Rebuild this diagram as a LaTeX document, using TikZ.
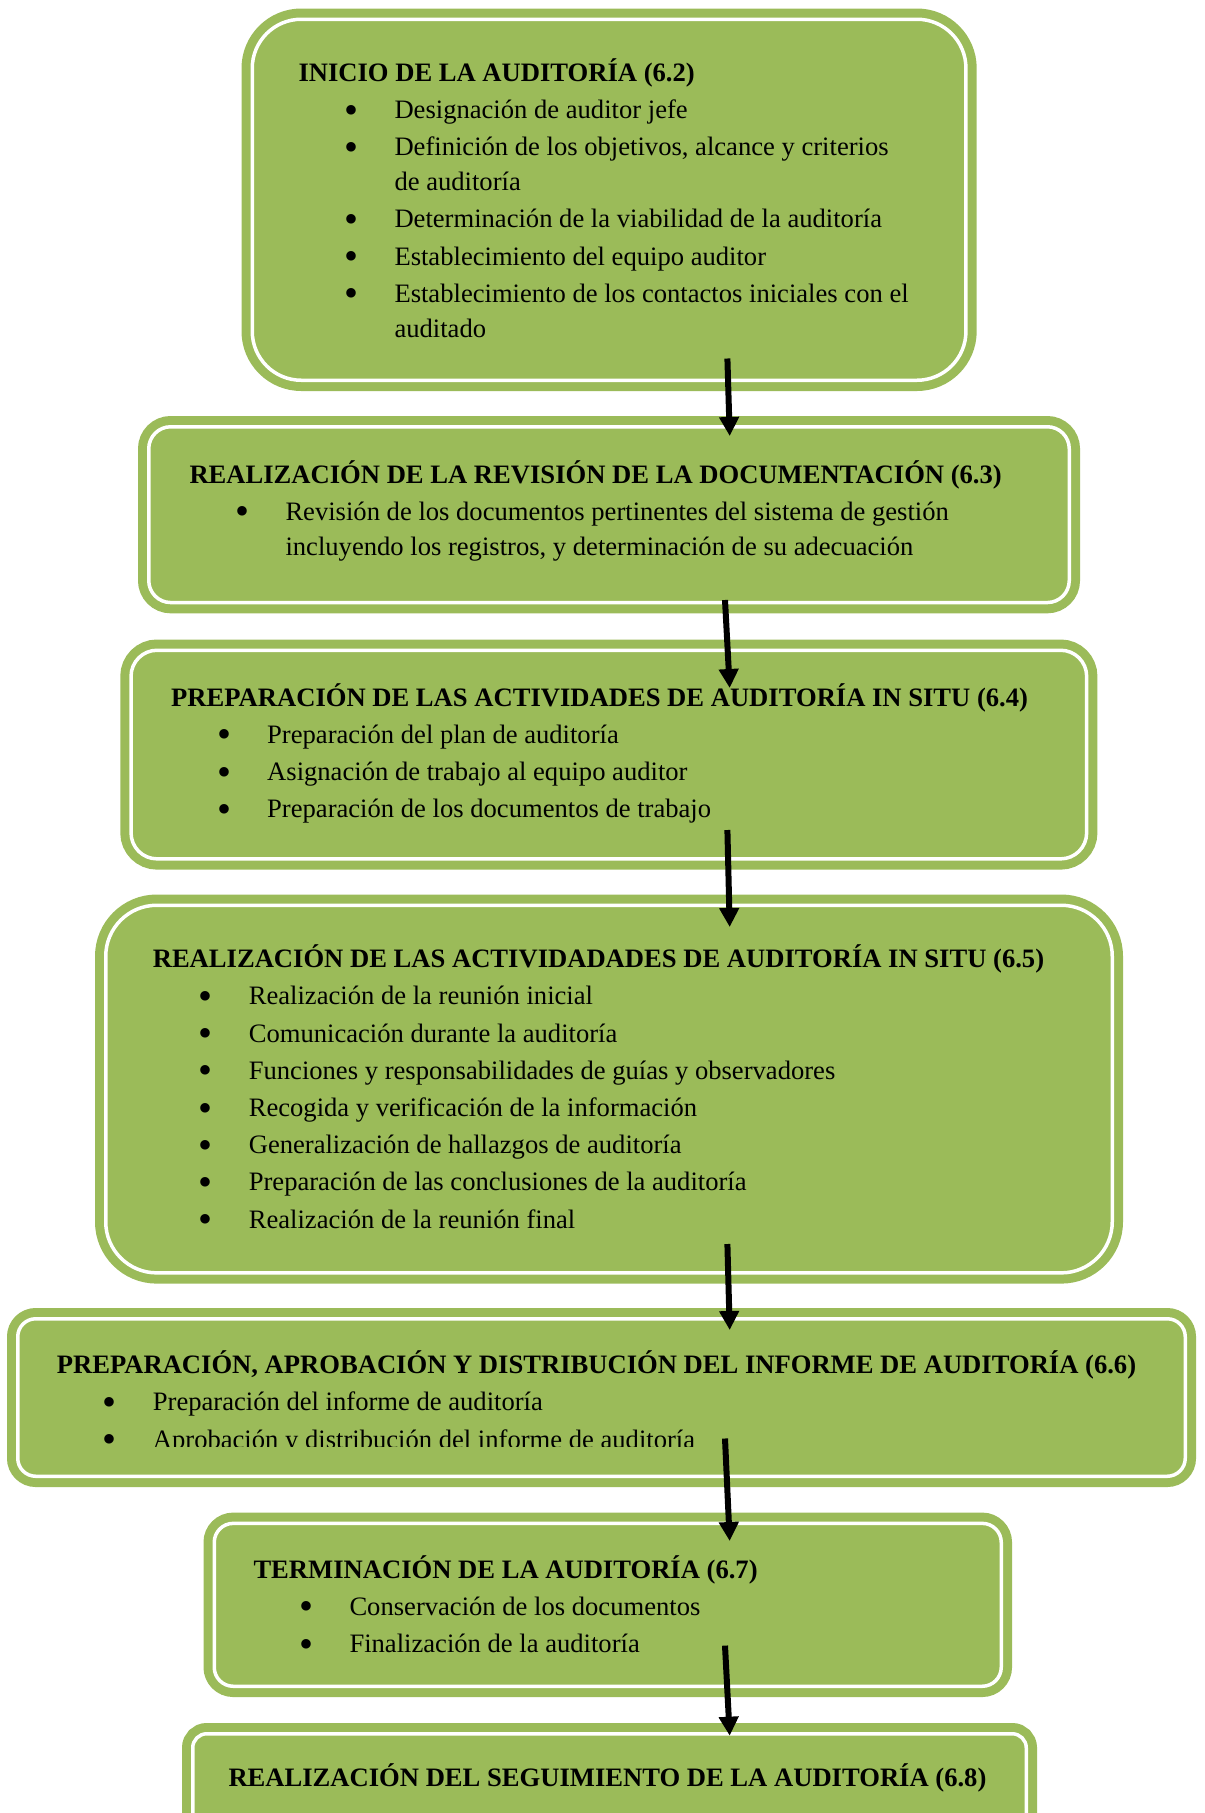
\documentclass[tikz,border=0pt]{standalone}
\usepackage{fontspec}
\setmainfont{Liberation Serif}
\usetikzlibrary{arrows.meta}
\definecolor{boxgreen}{RGB}{155,187,89}
\newcommand\bul{\makebox[96pt][l]{\hspace{46pt}\raisebox{-4.6pt}{\scalebox{1.5}{\textbullet}}}}
\newenvironment{blist}{\begin{tabular}[t]{@{}l@{}l@{}}}{\end{tabular}}
\begin{document}
\begin{tikzpicture}[x=1pt,y=-1pt,
  box/.style={rectangle, fill=boxgreen, draw=boxgreen, line width=9pt, double=white, double distance=3.5pt, inner sep=0pt},
  txt/.style={anchor=base west, inner sep=0pt, font=\fontsize{26.6}{35}\selectfont},
  arr/.style={line width=6pt, -{Triangle[width=19pt,length=19pt]}}]
\useasboundingbox (0,0) rectangle (1205,1813);
\begin{scope}
\clip (0,0) rectangle (1205,1813);
% boxes
\node[box, minimum width=713.7pt, minimum height=361pt, rounded corners=49pt] (b1) at (609.1,199.75) {};
\node[box, minimum width=920.5pt, minimum height=175.8pt, rounded corners=22pt] (b2) at (609,514.65) {};
\node[box, minimum width=955.6pt, minimum height=208.6pt, rounded corners=26pt] (b3) at (608.85,754.55) {};
\node[box, minimum width=1006.5pt, minimum height=367.6pt, rounded corners=51pt] (b4) at (609,1089.05) {};
\node[box, minimum width=1167.5pt, minimum height=157.5pt, rounded corners=18pt] (b5) at (601.5,1397.5) {};
\node[box, minimum width=787pt, minimum height=162.9pt, rounded corners=19pt] (b6) at (607.75,1604.8) {};
\node[box, minimum width=833.5pt, minimum height=133.5pt, rounded corners=14pt] (b7) at (609.5,1800.5) {};
% texts
\node[txt] (t1) at (298.3,81.3) {\begin{blist}
\multicolumn{2}{@{}l@{}}{\bfseries INICIO DE LA AUDITORÍA (6.2)}\\[2.2pt]
\bul & Designación de auditor jefe\\[2.2pt]
\bul & Definición de los objetivos, alcance y criterios\\
 & de auditoría\\[2.2pt]
\bul & Determinación de la viabilidad de la auditoría\\[2.2pt]
\bul & Establecimiento del equipo auditor\\[2.2pt]
\bul & Establecimiento de los contactos iniciales con el\\
 & auditado
\end{blist}};
\node[txt] (t2) at (189.3,483) {\begin{blist}
\multicolumn{2}{@{}l@{}}{\bfseries REALIZACIÓN DE LA REVISIÓN DE LA DOCUMENTACIÓN (6.3)}\\[2.2pt]
\bul & Revisión de los documentos pertinentes del sistema de gestión\\
 & incluyendo los registros, y determinación de su adecuación
\end{blist}};
\node[txt] (t3) at (171,706) {\begin{blist}
\multicolumn{2}{@{}l@{}}{\bfseries PREPARACIÓN DE LAS ACTIVIDADES DE AUDITORÍA IN SITU (6.4)}\\[2.2pt]
\bul & Preparación del plan de auditoría\\[2.2pt]
\bul & Asignación de trabajo al equipo auditor\\[2.2pt]
\bul & Preparación de los documentos de trabajo
\end{blist}};
\node[txt] (t4) at (152.6,967.7) {\begin{blist}
\multicolumn{2}{@{}l@{}}{\bfseries REALIZACIÓN DE LAS ACTIVIDADADES DE AUDITORÍA IN SITU (6.5)}\\[2.2pt]
\bul & Realización de la reunión inicial\\[2.2pt]
\bul & Comunicación durante la auditoría\\[2.2pt]
\bul & Funciones y responsabilidades de guías y observadores\\[2.2pt]
\bul & Recogida y verificación de la información\\[2.2pt]
\bul & Generalización de hallazgos de auditoría\\[2.2pt]
\bul & Preparación de las conclusiones de la auditoría\\[2.2pt]
\bul & Realización de la reunión final
\end{blist}};
\begin{scope}
\clip (0,1300) rectangle (1205,1446.5);
\node[txt] (t5) at (56.7,1373.6) {\begin{blist}
\multicolumn{2}{@{}l@{}}{\bfseries PREPARACIÓN, APROBACIÓN Y DISTRIBUCIÓN DEL INFORME DE AUDITORÍA (6.6)}\\[2.2pt]
\bul & Preparación del informe de auditoría\\[2.2pt]
\bul & Aprobación y distribución del informe de auditoría
\end{blist}};
\end{scope}
\node[txt] (t6) at (253.3,1578) {\begin{blist}
\multicolumn{2}{@{}l@{}}{\bfseries TERMINACIÓN DE LA AUDITORÍA (6.7)}\\[2.2pt]
\bul & Conservación de los documentos\\[2.2pt]
\bul & Finalización de la auditoría
\end{blist}};
\node[txt] (t7) at (228.3,1786.3) {\bfseries REALIZACIÓN DEL SEGUIMIENTO DE LA AUDITORÍA (6.8)};
% arrows
\coordinate (a1s) at (727.4,358.5);  \coordinate (a1e) at (729.7,436);
\coordinate (a2s) at (725,600);      \coordinate (a2e) at (729.7,688);
\coordinate (a3s) at (727.4,830);    \coordinate (a3e) at (729.7,927);
\coordinate (a4s) at (727.4,1244);   \coordinate (a4e) at (729.7,1330);
\coordinate (a5s) at (725,1438.5);   \coordinate (a5e) at (729.7,1541);
\coordinate (a6s) at (725,1645.6);   \coordinate (a6e) at (729.7,1735.7);
\draw[arr] (a1s) -- (a1e);
\draw[arr] (a2s) -- (a2e);
\draw[arr] (a3s) -- (a3e);
\draw[arr] (a4s) -- (a4e);
\draw[arr] (a5s) -- (a5e);
\draw[arr] (a6s) -- (a6e);
\end{scope}
\end{tikzpicture}
\end{document}
